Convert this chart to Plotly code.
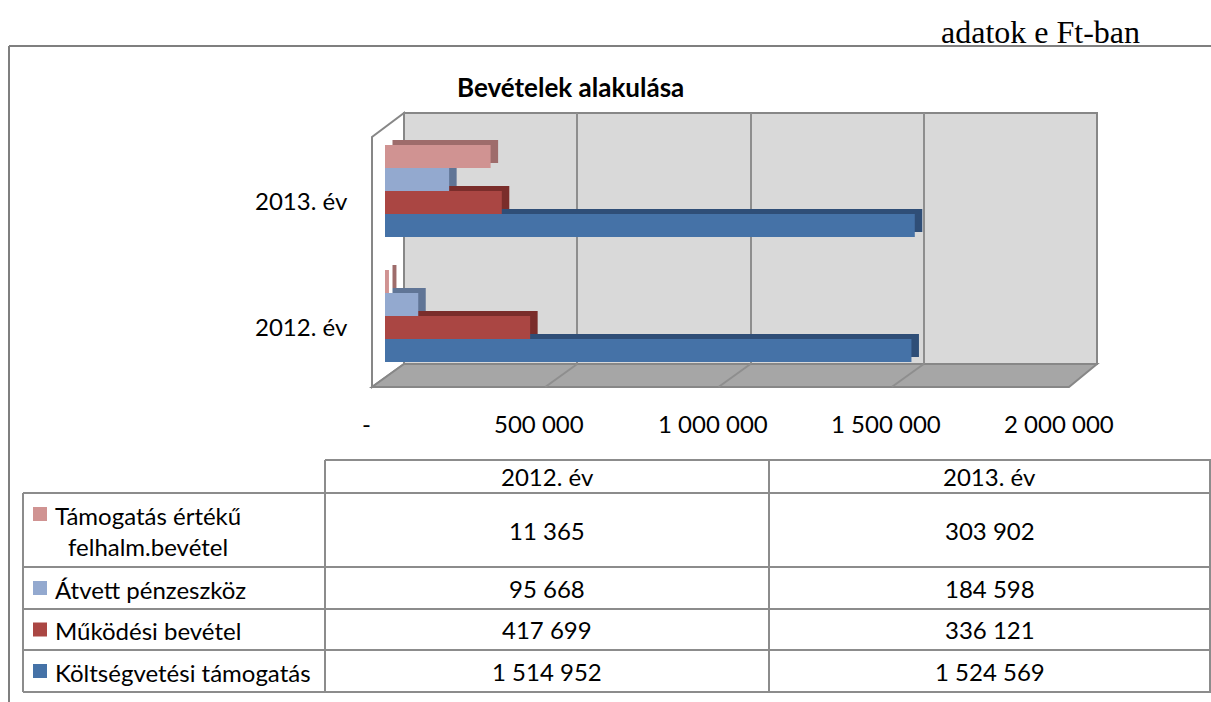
import plotly.graph_objects as go

W, H = 1211, 702

# ---------------- data ----------------
categories = ["2012. év", "2013. év"]
series_names = ["Költségvetési támogatás", "Működési bevétel", "Átvett pénzeszköz",
                "Támogatás értékű<br>felhalm.bevétel"]
koltsegvetesi = [1514952, 1524569]
mukodesi = [417699, 336121]
atvett = [95668, 184598]
tamogatas_felhalm = [11365, 303902]
series_values = [koltsegvetesi, mukodesi, atvett, tamogatas_felhalm]
front_colors = ["#4572A7", "#AA4643", "#93A9CF", "#D09392"]
side_colors = ["#2F4E77", "#7A2D2B", "#607596", "#9E6C6B"]
x_tickvals = [0, 500000, 1000000, 1500000, 2000000]
x_ticktext = ["-", "500 000", "1 000 000", "1 500 000", "2 000 000"]
title_text = "Bevételek alakulása"
unit_text = "adatok e Ft-ban"

FONT = "Lato"
FS = 24
GRAY = "#878787"
XMAX = 2000000


def px(x):
    return x / W


def py(y):
    return 1 - y / H


def fmt(v):
    return f"{v:,}".replace(",", " ")


fig = go.Figure()

DX, DY = 7.5, 5
BX0, BX1 = 385, 1080
BY0, BY1 = 378.5, 128.5
depth_base = -DX * XMAX / (BX1 - BX0)

# shadow (depth) bars -> x2/y2, shifted up-right
for name, vals, col in zip(series_names, series_values, side_colors):
    fig.add_trace(go.Bar(y=categories, x=[v - depth_base for v in vals],
                         base=[depth_base] * len(vals), orientation="h",
                         marker_color=col, marker_line_width=0, xaxis="x2", yaxis="y2",
                         showlegend=False, hoverinfo="skip"))
# front bars -> x3/y3
for name, vals, col in zip(series_names, series_values, front_colors):
    fig.add_trace(go.Bar(y=categories, x=vals, orientation="h", marker_color=col,
                         marker_line_width=0, xaxis="x3", yaxis="y3",
                         name=name.replace("<br>", " "), showlegend=False))

layout_axes = dict(
    xaxis=dict(domain=[px(404), px(1097)], range=[0, XMAX], tickvals=x_tickvals,
               showticklabels=False, showgrid=True, gridcolor="#8E8E8E", gridwidth=2,
               zeroline=False, showline=False, anchor="y", fixedrange=True),
    yaxis=dict(domain=[py(364), py(113)], range=[0, 1], visible=False, anchor="x",
               fixedrange=True),
    xaxis2=dict(domain=[px(BX0 + DX), px(BX1 + DX)], range=[0, XMAX], visible=False,
                anchor="y2"),
    yaxis2=dict(domain=[py(BY0 - DY), py(BY1 - DY)], range=[-0.5, 1.5], visible=False,
                type="category", categoryarray=categories, anchor="x2"),
    xaxis3=dict(domain=[px(BX0), px(BX1)], range=[0, XMAX], visible=False, anchor="y3"),
    yaxis3=dict(domain=[py(BY0), py(BY1)], range=[-0.5, 1.5], visible=False,
                type="category", categoryarray=categories, anchor="x3"),
)

shapes = []
# outer frame
shapes.append(dict(type="line", xref="paper", yref="paper", x0=px(9), x1=px(1212),
                   y0=py(46), y1=py(46), line=dict(color="#7F7F7F", width=2), layer="below"))
shapes.append(dict(type="line", xref="paper", yref="paper", x0=px(9), x1=px(9),
                   y0=py(46), y1=py(703), line=dict(color="#7F7F7F", width=2), layer="below"))
# back wall
shapes.append(dict(type="rect", xref="paper", yref="paper", x0=px(404), x1=px(1097),
                   y0=py(364), y1=py(113), fillcolor="#D9D9D9",
                   line=dict(color=GRAY, width=2), layer="below"))
# left side wall
shapes.append(dict(type="path", xref="paper", yref="paper",
                   path=f"M {px(372)} {py(387)} L {px(372)} {py(137)} L {px(404)} {py(113)} "
                        f"L {px(404)} {py(364)} Z",
                   fillcolor="white", line=dict(color=GRAY, width=2), layer="below"))
# floor
shapes.append(dict(type="path", xref="paper", yref="paper",
                   path=f"M {px(372)} {py(387)} L {px(404)} {py(364)} L {px(1097)} {py(364)} "
                        f"L {px(1069)} {py(387)} Z",
                   fillcolor="#A6A6A6", line=dict(color=GRAY, width=2), layer="below"))
# floor grid lines (computed from tick values)
for v in x_tickvals[1:-1]:
    bx = 404 + v / XMAX * (1097 - 404)
    shapes.append(dict(type="line", xref="paper", yref="paper", x0=px(bx), y0=py(364),
                       x1=px(bx - 32), y1=py(387), line=dict(color="#8E8E8E", width=2),
                       layer="below"))

# data table lines
TL = dict(color="#8C8C8C", width=2)
row_bounds = [493, 567, 609, 650, 692]
col_x = [23, 325, 769, 1210]
shapes.append(dict(type="line", xref="paper", yref="paper", x0=px(325), x1=px(1212),
                   y0=py(460), y1=py(460), line=TL))
for yb in row_bounds:
    shapes.append(dict(type="line", xref="paper", yref="paper", x0=px(23), x1=px(1212),
                       y0=py(yb), y1=py(yb), line=TL))
shapes.append(dict(type="line", xref="paper", yref="paper", x0=px(23), x1=px(23),
                   y0=py(493), y1=py(692), line=TL))
for cx in col_x[1:]:
    shapes.append(dict(type="line", xref="paper", yref="paper", x0=px(cx), x1=px(cx),
                       y0=py(460), y1=py(692), line=TL))


def ann(text, x, y, xref="paper", yref="paper", xanchor="center", size=FS, family=FONT,
        **kw):
    d = dict(text=text, xref=xref, yref=yref, x=x, y=y, xanchor=xanchor, yanchor="middle",
             showarrow=False, font=dict(family=family, size=size, color="black"))
    d.update(kw)
    return d


annotations = []
annotations.append(ann(unit_text, px(1040), py(32), family="Liberation Serif", size=32))
annotations.append(ann(f"<b>{title_text}</b>", px(570), py(87), size=26))
# category labels
for c in categories:
    annotations.append(ann(c, px(350), c, yref="y3", xanchor="right", yshift=-10))
# value axis labels
for v, t in zip(x_tickvals, x_ticktext):
    annotations.append(ann(t, v, py(423), xref="x", xshift=-38))

# table header
for i, c in enumerate(categories):
    annotations.append(ann(c, px((col_x[i + 1] + col_x[i + 2]) / 2), py(476.5)))
# table rows: top row is last series
row_order = [3, 2, 1, 0]
for r, si in enumerate(row_order):
    y0, y1 = row_bounds[r], row_bounds[r + 1]
    yc = (y0 + y1) / 2
    sq_y = 514 if r == 0 else yc
    shapes.append(dict(type="rect", xref="paper", yref="paper", x0=px(33), x1=px(47),
                       y0=py(sq_y + 7), y1=py(sq_y - 7), fillcolor=front_colors[si],
                       line=dict(width=0)))
    annotations.append(ann(series_names[si], px(53), py(yc + 1), xanchor="left",
                           align="center"))
    for i in range(2):
        annotations.append(ann(fmt(series_values[si][i]),
                               px((col_x[i + 1] + col_x[i + 2]) / 2), py(yc)))

fig.update_layout(
    width=W, height=H, autosize=False,
    margin=dict(l=0, r=0, t=0, b=0, pad=0),
    paper_bgcolor="white", plot_bgcolor="rgba(0,0,0,0)",
    barmode="group", bargap=0.264, bargroupgap=0,
    shapes=shapes, annotations=annotations, showlegend=False,
    **layout_axes,
)

fig.write_html("out.html",
               config={"displayModeBar": False},
               post_script="document.body.style.margin='0';"
                           "document.documentElement.style.overflow='hidden';")
